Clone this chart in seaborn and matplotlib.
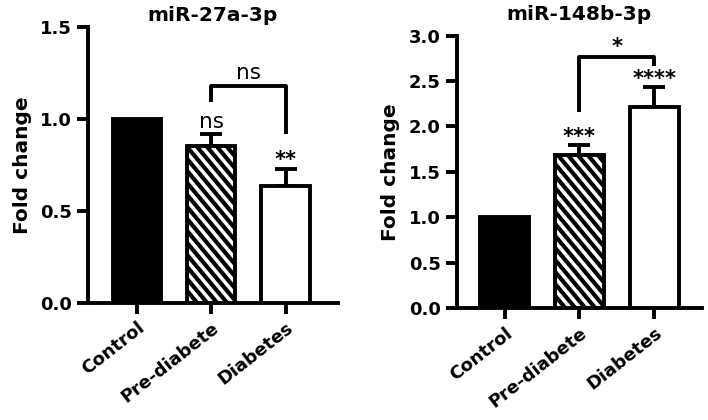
import numpy as np
import seaborn as sns
import matplotlib.pyplot as plt
from matplotlib.lines import Line2D
from matplotlib.transforms import IdentityTransform

# group means / SEM
groups = ["Control", "Pre-diabete", "Diabetes"]
mir27_mean = [1.0, 0.85, 0.635]
mir27_err = [0.0, 0.07, 0.095]
mir148_mean = [1.0, 1.68, 2.21]
mir148_err = [0.0, 0.11, 0.22]

mir27_sig = ["", "ns", "**"]
mir148_sig = ["", "***", "****"]

# bracket pre-diabete vs diabetes: (top, left leg end, right leg end, label)
mir27_bracket = (1.18, 1.09, 0.915, "ns")
mir148_bracket = (2.77, 2.16, 2.67, "*")

sns.set_style("ticks", {"axes.edgecolor": "black", "text.color": "black",
                        "axes.labelcolor": "black", "xtick.color": "black",
                        "ytick.color": "black"})
plt.rcParams['font.family'] = ['DejaVu Sans']
LW = 2.8


def sig_text(ax, s, x, y, dy):
    # "ns" in plain text, stars a bit heavier
    if s == "ns":
        ax.annotate(s, (x, y), xytext=(0, dy), textcoords="offset points",
                    ha="center", va="bottom", fontsize=15.5)
    else:
        ax.annotate(s, (x, y), xytext=(0, dy - 2), textcoords="offset points",
                    ha="center", va="bottom", fontsize=15, fontweight="bold")


def stripe(ax, patch, step=12, k=1.2, lw=3.0):
    # GraphPad-like diagonal hatch, drawn in pixels and clipped to the bar
    bb = patch.get_window_extent()
    w = bb.x1 - bb.x0
    for c in np.arange(bb.y0, bb.y1 + w * k + step, step):
        ln = Line2D([bb.x0, bb.x1], [c, c - w * k], color="black", lw=lw,
                    transform=IdentityTransform(), zorder=3.5)
        ax.add_artist(ln)
        ln.set_clip_path(patch)  # after add_artist, which would reset it


def panel(ax, means, errs, sig, bracket, title, ymax, ystep, xlim, title_pad):
    sns.barplot(x=groups, y=means, hue=groups, palette=["black", "white", "white"],
                edgecolor="black", linewidth=LW, width=0.65, errorbar=None,
                legend=False, ax=ax, zorder=3)
    xs = np.arange(len(groups))
    errs = np.asarray(errs)
    ax.errorbar(xs[1:], means[1:], yerr=[np.zeros(len(errs) - 1), errs[1:]],
                fmt="none", ecolor="black", elinewidth=LW, capsize=8,
                capthick=LW, zorder=2)
    for x, m, e, s in zip(xs, means, errs, sig):
        if s:
            sig_text(ax, s, x, m + e, 1)
    top, l_end, r_end, lab = bracket
    ax.plot([1, 1, 2, 2], [l_end, top, top, r_end], color="black", lw=LW,
            clip_on=False, zorder=4, solid_capstyle="butt")
    sig_text(ax, lab, 1.5, top, 2)

    ax.set_ylim(0, ymax)
    ax.set_yticks(np.arange(0, ymax + 1e-9, ystep))
    ax.yaxis.set_major_formatter(plt.FormatStrFormatter("%.1f"))
    ax.set_xlim(*xlim)
    sns.despine(ax=ax)
    for sp in ["left", "bottom"]:
        ax.spines[sp].set_linewidth(LW)
    ax.tick_params(axis="both", width=LW, length=8, labelsize=13)
    for t in ax.get_yticklabels():
        t.set_fontweight("bold")
    ax.set_xticks(xs)
    ax.set_xticklabels(groups, rotation=38, ha="right", rotation_mode="anchor",
                       fontweight="bold", fontsize=13)
    ax.set_ylabel("Fold change", fontsize=14.5, fontweight="bold", labelpad=6)
    ax.set_xlabel("")
    ax.set_title(title, fontsize=14.5, fontweight="bold", pad=title_pad)


fig = plt.figure(figsize=(7.08, 4.2), dpi=100)
ax1 = fig.add_axes([0.124, 0.279, 0.353, 0.657])
ax2 = fig.add_axes([0.645, 0.267, 0.347, 0.648])

panel(ax1, mir27_mean, mir27_err, mir27_sig, mir27_bracket, "miR-27a-3p",
      1.5, 0.5, (-0.66, 2.7), 4)
panel(ax2, mir148_mean, mir148_err, mir148_sig, mir148_bracket, "miR-148b-3p",
      3.0, 0.5, (-0.64, 2.64), 11)

# hatch the pre-diabete bars once the axes limits are fixed
for ax in (ax1, ax2):
    stripe(ax, ax.patches[1])

plt.savefig("out.png", dpi=100)
